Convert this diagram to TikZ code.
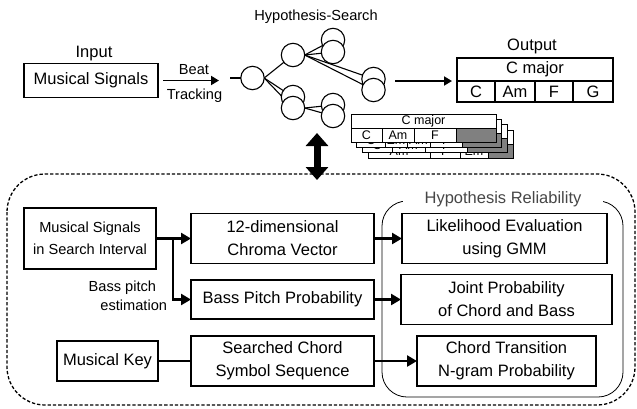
\documentclass[tikz,border=0pt]{standalone}
\usepackage{fontspec}
\setmainfont{Liberation Sans}
\usetikzlibrary{arrows.meta,backgrounds}
\begin{document}
\begin{tikzpicture}[x=1pt,y=-1pt,
  every node/.style={inner sep=0pt, outer sep=0pt},
  fbig/.style={font=\fontsize{16.5}{23}\selectfont},
  fmid/.style={font=\fontsize{14.6}{22}\selectfont},
  fsmall/.style={font=\fontsize{12.5}{14}\selectfont},
  box/.style={draw, line width=1.8pt, fill=white, align=center, fbig},
  hyp/.style={draw, circle, line width=1.1pt, fill=white, minimum size=23.4pt},
  cell/.style={draw, line width=0.8pt, fill=white, anchor=north west, minimum height=14pt, fsmall},
  graycell/.style={cell, fill=black!50},
  link/.style={line width=1.1pt},
  toparrow/.style={line width=1.8pt, -{Triangle[length=8pt,width=9pt]}},
  conn/.style={line width=2.8pt, -{Triangle[length=10pt,width=11pt]}},
  plain/.style={line width=2.8pt},
  dbl/.style={line width=7pt, {Triangle[length=13pt,width=22pt]}-{Triangle[length=13pt,width=22pt]}},
  dashframe/.style={line width=1.3pt, dash pattern=on 3.3pt off 2pt, rounded corners=38pt},
  relframe/.style={line width=0.8pt, rounded corners=25pt}
]
\useasboundingbox (0,0) rectangle (637,408);

% ---------- top row ----------
\node[fbig, anchor=base] (inlbl) at (94,57) {Input};
\node[box, minimum width=134pt, minimum height=34pt] (in) at (91,80.5) {Musical Signals};
\node[fmid, anchor=base] (beat) at (194,74) {Beat};
\node[fmid, anchor=base] (track) at (194.5,99.5) {Tracking};
\coordinate (bt) at (219,80.5);
\draw[toparrow, shorten <=5pt] (in.east) -- (bt);

\node[fmid, anchor=base] (hslbl) at (316,20) {Hypothesis-Search};

% tree
\node[hyp] (r) at (252.5,78) {};
\node[hyp] (u) at (293,55) {};
\node[hyp] (l1) at (293,97) {};
\node[hyp] (l2) at (293,108) {};
\node[hyp] (ur1) at (333,40) {};
\node[hyp] (ur2) at (333,52) {};
\node[hyp] (fr1) at (373.5,79) {};
\node[hyp] (fr2) at (373.5,90) {};
\node[hyp] (lr1) at (333,105) {};
\node[hyp] (lr2) at (333,116) {};
\coordinate (rin) at (230,78);
\draw[link] (rin) -- (r.west);
\begin{pgfonlayer}{background}
\draw[link] (r.east) -- (u.center);
\draw[link] (r.east) -- (l1.center);
\draw[link] (r.east) -- (l2.center);
\draw[link] (u.east) -- (ur1.center);
\draw[link] (u.east) -- (ur2.center);
\draw[link] (u.east) -- (fr1.center);
\draw[link] (u.east) -- (fr2.center);
\draw[link] (l2.east) -- (lr1.center);
\draw[link] (l2.east) -- (lr2.center);
\end{pgfonlayer}

% output
\node[fbig, anchor=base] (outlbl) at (532,50) {Output};
\node[box, minimum width=156pt, minimum height=23pt] (outtop) at (535,69.5) {C major};
\node[box, minimum width=38pt, minimum height=21pt] (oc1) at (476,91.5) {C};
\node[box, minimum width=40pt, minimum height=21pt] (oc2) at (515,91.5) {Am};
\node[box, minimum width=38pt, minimum height=21pt] (oc3) at (554,91.5) {F};
\node[box, minimum width=40pt, minimum height=21pt] (oc4) at (593,91.5) {G};
\coordinate (oa) at (395,81);
\draw[toparrow, shorten >=5pt] (oa) -- (outtop.south west);

% stacked hypotheses (back to front)
\node[cell, minimum width=145pt] (s3t) at (368.1,129.9) {C major};
\node[cell, minimum width=61.9pt] (s3a) at (368.1,143.9) {Am};
\node[cell, minimum width=30pt] (s3b) at (430,143.9) {F};
\node[cell, minimum width=28pt] (s3c) at (460,143.9) {Em};
\node[graycell, minimum width=25.1pt] (s3d) at (488,143.9) {};

\node[cell, minimum width=145pt] (s2t) at (362.4,124.6) {C major};
\node[cell, minimum width=29.6pt] (s2a) at (362.4,138.6) {C};
\node[cell, minimum width=33pt] (s2b) at (392,138.6) {Am};
\node[cell, minimum width=42pt] (s2c) at (425,138.6) {F};
\node[graycell, minimum width=40.4pt] (s2d) at (467,138.6) {};

\node[cell, minimum width=145pt] (s1t) at (356.7,119.3) {C major};
\node[cell, minimum width=28.3pt] (s1a) at (356.7,133.3) {C};
\node[cell, minimum width=22pt] (s1b) at (385,133.3) {Em};
\node[cell, minimum width=23pt] (s1c) at (407,133.3) {Am};
\node[cell, minimum width=32pt] (s1d) at (430,133.3) {F};
\node[graycell, minimum width=39.7pt] (s1e) at (462,133.3) {};

\node[cell, minimum width=145pt] (s0t) at (351,114) {C major};
\node[cell, minimum width=31pt] (s0a) at (351,128) {C};
\node[cell, minimum width=32pt] (s0b) at (382,128) {Am};
\node[cell, minimum width=42pt] (s0c) at (414,128) {F};
\node[graycell, minimum width=40pt] (s0d) at (456,128) {};

% ---------- lower part ----------
\draw[dashframe] (7,174) rectangle (635,405);
\coordinate (da1) at (317,133);
\coordinate (da2) at (317,180);
\draw[dbl] (da1) -- (da2);

\draw[relframe] (382,201) rectangle (623,397);
\node[fbig, anchor=base, fill=white, inner xsep=22pt, text=black!72] (hr) at (503,203) {Hypothesis Reliability};

\node[box, fmid, minimum width=132pt, minimum height=61pt] (msig) at (90,238.5) {Musical Signals\\in Search Interval};
\node[box, minimum width=183pt, minimum height=50pt] (chroma) at (282.5,238.5) {12-dimensional\\Chroma Vector};
\node[box, minimum width=183pt, minimum height=39pt] (bass) at (282.5,299.5) {Bass Pitch Probability};
\node[box, minimum width=183pt, minimum height=50pt] (search) at (282.5,361) {Searched Chord\\Symbol Sequence};
\node[box, minimum width=101pt, minimum height=40pt] (key) at (107.5,361) {Musical Key};
\node[box, minimum width=205pt, minimum height=50pt] (like) at (504.5,238.5) {Likelihood Evaluation\\using GMM};
\node[box, minimum width=211pt, minimum height=50pt] (joint) at (506.5,299.5) {Joint Probability\\of Chord and Bass};
\node[box, minimum width=179pt, minimum height=50pt] (trans) at (506.5,361) {Chord Transition\\N-gram Probability};

\node[fmid, anchor=base east] (bp1) at (156,291.5) {Bass pitch};
\node[fmid, anchor=base east] (bp2) at (167,310) {estimation};

\draw[conn] (msig.east) -- (chroma.west);
\coordinate (br) at (173,238.5);
\draw[conn] (br) |- (bass.west);
\draw[plain] (key.east) -- (search.west);
\draw[conn] (chroma.east) -- (like.west);
\draw[conn] (bass.east) -- (joint.west);
\draw[conn] (search.east) -- (trans.west);
\end{tikzpicture}
\end{document}
